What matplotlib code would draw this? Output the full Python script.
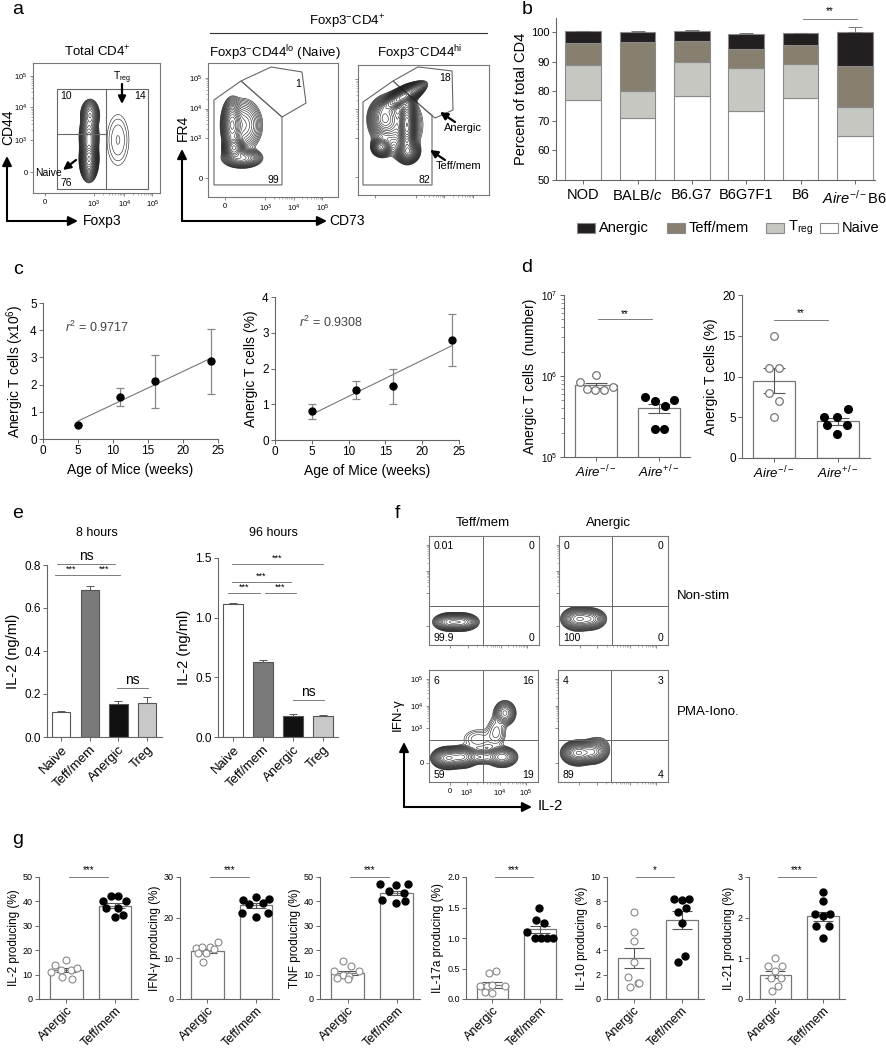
import numpy as np
import matplotlib
matplotlib.use("Agg")
import matplotlib.pyplot as plt
from matplotlib.patches import Polygon, FancyArrowPatch, Rectangle
from matplotlib.lines import Line2D

plt.rcParams['font.family'] = ['Liberation Sans', 'DejaVu Sans']
plt.rcParams['mathtext.fontset'] = 'custom'
plt.rcParams['mathtext.rm'] = 'Liberation Sans'
plt.rcParams['mathtext.it'] = 'Liberation Sans:italic'
plt.rcParams['mathtext.bf'] = 'Liberation Sans:bold'
plt.rcParams['axes.linewidth'] = 0.8

W, H = 886, 1050
fig = plt.figure(figsize=(W / 100, H / 100), dpi=100)

# ------------------------------------------------------------------ data
# panel b : stacked percentages of total CD4
strains = ['NOD', 'BALB/$\\mathit{c}$', 'B6.G7', 'B6G7F1', 'B6', '$\\mathit{Aire}^{-/-}$B6']
b_naive = [77.0, 71.0, 78.4, 73.4, 77.8, 65.0]
b_treg = [11.9, 9.0, 11.3, 14.5, 11.3, 9.5]
b_teff = [7.4, 16.5, 7.2, 6.5, 6.6, 14.1]
b_anergic = [3.9, 3.5, 3.4, 4.8, 3.8, 11.4]
b_err = [0.2, 0.2, 0.2, 0.4, 0.1, 1.5]
b_series = ['Anergic', 'Teff/mem', 'T$_{\\mathrm{reg}}$', 'Naive']
b_colors = ['#231f20', '#878070', '#c6c7c1', 'white']

# panel c : age course
c_age = [5, 11, 16, 24]
c_num = [0.5, 1.55, 2.12, 2.85]
c_num_err = [0.0, 0.32, 0.97, 1.18]
c_pct = [0.8, 1.4, 1.5, 2.8]
c_pct_err = [0.2, 0.25, 0.5, 0.73]
c_r2 = ['0.9717', '0.9308']

# panel d : Aire-/- vs Aire+/-
d_groups = ['$\\mathit{Aire}^{-/-}$', '$\\mathit{Aire}^{+/-}$']
d_num_ko = [8.4e5, 1.02e6, 6.9e5, 6.8e5, 6.8e5, 7.3e5]
d_num_ko_x = [-0.25, 0.0, -0.15, -0.02, 0.12, 0.26]
d_num_het = [5.5e5, 4.9e5, 4.3e5, 5.0e5, 2.2e5, 2.2e5]
d_num_het_x = [-0.23, -0.07, 0.09, 0.24, -0.07, 0.08]
d_num_mean = [7.75e5, 4.0e5]
d_num_sem = [5.5e4, 5.5e4]
d_pct_ko = [15, 11, 11, 8, 7, 5]
d_pct_ko_x = [0.0, -0.08, 0.08, -0.08, 0.08, 0.0]
d_pct_het = [5, 5, 6, 4, 4, 3]
d_pct_het_x = [-0.22, -0.02, 0.15, -0.17, 0.14, -0.02]
d_pct_mean = [9.5, 4.5]
d_pct_sem = [1.5, 0.45]

# panel e : IL-2 secretion
e_cells = ['Naive', 'Teff/mem', 'Anergic', 'Treg']
e_colors = ['white', '#7a7a7a', '#111111', '#c8c8c8']
e8 = [0.115, 0.685, 0.155, 0.16]
e8_err = [0.005, 0.017, 0.013, 0.025]
e96 = [1.115, 0.625, 0.18, 0.178]
e96_err = [0.006, 0.02, 0.012, 0.007]

# panel f : quadrant percentages
f_quads = {
    'f1': ['0.01', '0', '99.9', '0'],
    'f2': ['0', '0', '100', '0'],
    'f3': ['6', '16', '59', '19'],
    'f4': ['4', '3', '89', '4'],
}

# panel g : cytokine producing (%)
g_labels = ['IL-2 producing (%)', 'IFN-\u03b3 producing (%)', 'TNF producing (%)',
            'IL-17a producing (%)', 'IL-10 producing (%)', 'IL-21 producing (%)']
g_ymax = [50, 30, 50, 2.0, 10, 3]
g_ystep = [10, 10, 10, 0.5, 2, 1]
g_sig = ['***', '***', '***', '***', '*', '***']
g_an = [[14.1, 16.1, 12, 12, 12.7, 11, 9, 8.2],
        [12.5, 12.9, 12.9, 14.1, 11.2, 11.2, 12.2, 9.0],
        [15.4, 13.4, 11.3, 11.3, 10.0, 9.3, 8.6, 8.2],
        [0.42, 0.46, 0.21, 0.21, 0.23, 0.21, 0.11, 0.10],
        [7.1, 5.5, 4.75, 3.05, 1.8, 1.35, 1.0, 1.3],
        [1.0, 0.8, 0.8, 0.7, 0.52, 0.52, 0.33, 0.19]]
g_an_x = [[-0.23, 0.0, -0.1, 0.09, 0.21, -0.31, -0.09, 0.12],
          [-0.24, -0.1, 0.06, 0.22, -0.19, -0.03, 0.13, -0.08],
          [-0.09, 0.07, -0.28, 0.24, -0.1, 0.03, -0.21, 0.0],
          [-0.08, 0.08, -0.26, -0.12, -0.01, 0.26, -0.15, 0.0],
          [0.0, 0.0, 0.0, 0.0, -0.12, 0.09, -0.08, 0.12],
          [0.0, -0.15, 0.14, 0.0, -0.1, 0.12, 0.06, -0.07]]
g_te = [[40.3, 42.3, 42.3, 40.3, 37.3, 37.3, 33.5, 34.3],
        [24.3, 25.1, 24.7, 23.3, 23.5, 21.2, 20.2, 21.2],
        [47.1, 46.9, 47.1, 44.1, 43.4, 40.7, 39.3, 40.0],
        [1.5, 1.3, 1.24, 1.1, 1.0, 1.0, 1.0, 1.0],
        [8.2, 8.1, 8.2, 7.5, 7.1, 6.2, 3.5, 3.0],
        [2.62, 2.42, 2.1, 2.05, 2.1, 1.8, 1.8, 1.5]]
g_te_x = [[-0.24, -0.09, 0.07, 0.22, -0.18, 0.07, 0.0, 0.17],
          [-0.26, 0.0, 0.26, -0.14, 0.14, -0.28, 0.0, 0.24],
          [-0.35, -0.01, 0.22, -0.16, 0.14, -0.31, -0.02, 0.17],
          [-0.02, -0.08, 0.08, -0.26, -0.11, 0.03, 0.15, 0.27],
          [-0.15, 0.01, 0.15, 0.1, -0.07, 0.01, 0.08, -0.07],
          [0.0, 0.0, -0.16, 0.0, 0.16, -0.14, 0.14, 0.0]]
g_mean = [[11.8, 38.3], [11.8, 23.0], [10.5, 43.5], [0.23, 1.14], [3.35, 6.45], [0.6, 2.03]]
g_sem = [[0.9, 1.1], [0.5, 0.7], [0.8, 0.8], [0.045, 0.06], [0.8, 0.75], [0.09, 0.1]]


# ------------------------------------------------------------------ helpers
def add_ax(x0, y0, x1, y1):
    return fig.add_axes([x0 / W, 1 - y1 / H, (x1 - x0) / W, (y1 - y0) / H])


def ftext(x, y, s, **kw):
    kw.setdefault('ha', 'center')
    kw.setdefault('va', 'center')
    fig.text(x / W, 1 - y / H, s, **kw)


def farrow(x0, y0, x1, y1, lw=1.5, ms=14, style='-|>'):
    fig.add_artist(FancyArrowPatch((x0 / W, 1 - y0 / H), (x1 / W, 1 - y1 / H),
                                   transform=fig.transFigure, arrowstyle=style,
                                   mutation_scale=ms, lw=lw, color='k',
                                   shrinkA=0, shrinkB=0))


def fline(x0, y0, x1, y1, **kw):
    fig.add_artist(Line2D([x0 / W, x1 / W], [1 - y0 / H, 1 - y1 / H],
                          transform=fig.transFigure, **kw))


def prism(ax, lab=7):
    for s in ['top', 'right']:
        ax.spines[s].set_visible(False)
    for s in ['left', 'bottom']:
        ax.spines[s].set_color('#666')
        ax.spines[s].set_linewidth(0.8)
    ax.tick_params(direction='out', length=3, width=0.7, color='#666',
                   labelsize=lab, pad=1.5)
    ax.tick_params(which='minor', direction='out', length=2, width=0.5, color='#666')


def sig(ax, x1, x2, y, label, dy, fs=7, lw=0.6):
    ax.plot([x1, x2], [y, y], color='#666', lw=lw, clip_on=False)
    ax.text((x1 + x2) / 2, y + dy, label, ha='center', va='bottom', fontsize=fs,
            clip_on=False)


def density(blobs, n=260):
    u = np.linspace(0, 1, n)
    U, V = np.meshgrid(u, u)
    Z = np.zeros_like(U)
    for b in blobs:
        cx, cy, sx, sy, w = b[:5]
        ang = np.deg2rad(b[5]) if len(b) > 5 else 0.0
        du, dv = U - cx, V - cy
        a = du * np.cos(ang) + dv * np.sin(ang)
        c = -du * np.sin(ang) + dv * np.cos(ang)
        Z += w * np.exp(-0.5 * ((a / sx) ** 2 + (c / sy) ** 2))
    return U, V, Z


def decade_minor(pos):
    out = []
    for p0, p1 in zip(pos[:-1], pos[1:]):
        for m in range(2, 10):
            out.append(p0 + np.log10(m) * (p1 - p0))
    return out


def flow_ax(box, blobs, lo, nlev, xt=None, yt=None, xlabels=False, ylabels=False, lw=0.4):
    ax = add_ax(*box)
    ax.set_xlim(0, 1)
    ax.set_ylim(0, 1)
    U, V, Z = density(blobs)
    lev = Z.max() * np.geomspace(lo, 0.93, nlev)
    ax.contour(U, V, Z, levels=lev, colors='#1a1a1a', linewidths=lw)
    for s in ax.spines.values():
        s.set_color('#777')
        s.set_linewidth(0.8)
    labs = ['0', '10$^3$', '10$^4$', '10$^5$']
    if xt is not None:
        ax.set_xticks(xt)
        ax.set_xticks(decade_minor(xt[1:]), minor=True)
        ax.set_xticklabels(labs if xlabels else [''] * 4)
    else:
        ax.set_xticks([])
    if yt is not None:
        ax.set_yticks(yt)
        ax.set_yticks(decade_minor(yt[1:]), minor=True)
        ax.set_yticklabels(labs if ylabels else [''] * 4)
    else:
        ax.set_yticks([])
    ax.tick_params(direction='out', length=2, width=0.6, color='#777', labelsize=5.5, pad=2)
    ax.tick_params(which='minor', direction='out', length=1.2, width=0.4, color='#777')
    return ax


# ------------------------------------------------------------------ panel a
ftext(18, 10, 'a', fontsize=14)
ftext(97, 52, 'Total CD4$^{+}$', fontsize=9.5)
ax = flow_ax((33, 63, 160, 193),
             [(0.441, 0.26, 0.024, 0.055, 1.0), (0.441, 0.43, 0.027, 0.065, 0.3),
              (0.449, 0.6, 0.027, 0.044, 0.2), (0.669, 0.408, 0.068, 0.154, 0.009)],
             0.004, 22, xt=[0.094, 0.48, 0.72, 0.94], yt=[0.16, 0.41, 0.66, 0.9],
             xlabels=True, ylabels=True)
g = dict(color='#666', lw=0.8)
ax.plot([0.189, 0.906, 0.906, 0.189, 0.189], [0.031, 0.031, 0.8, 0.8, 0.031], **g)
ax.plot([0.575, 0.575], [0.031, 0.8], **g)
ax.plot([0.189, 0.575], [0.454, 0.454], **g)
ax.text(0.213, 0.745, '10', fontsize=7.5, va='center')
ax.text(0.89, 0.745, '14', fontsize=7.5, va='center', ha='right')
ax.text(0.213, 0.075, '76', fontsize=7.5, va='center')
ax.text(0.02, 0.155, 'Naive', fontsize=7.5, va='center')
ax.text(0.70, 0.885, 'T$_{\\mathrm{reg}}$', fontsize=7.5, va='center', ha='center')
farrow(122, 84, 122, 104, lw=1.6, ms=11)
farrow(76, 160, 63, 170, lw=1.6, ms=11)

ftext(347, 22, 'Foxp3$^{-}$CD4$^{+}$', fontsize=9.5)
fline(210, 33, 487, 33, color='#333', lw=0.8)
ftext(275, 53, 'Foxp3$^{-}$CD44$^{\\mathrm{lo}}$ (Naive)', fontsize=9.5)
ftext(420, 53, 'Foxp3$^{-}$CD44$^{\\mathrm{hi}}$', fontsize=9.5)

ax = flow_ax((208, 63, 338, 197),
             [(0.2, 0.366, 0.031, 0.037, 1.0), (0.185, 0.537, 0.031, 0.075, 0.5),
              (0.269, 0.537, 0.069, 0.09, 0.12), (0.262, 0.291, 0.062, 0.03, 0.3)],
             0.01, 22, xt=[0.13, 0.44, 0.66, 0.88], yt=[0.14, 0.44, 0.66, 0.89],
             xlabels=True, ylabels=True)
ax.add_patch(Polygon([(0.046, 0.724), (0.254, 0.866), (0.569, 0.597), (0.569, 0.09), (0.046, 0.09)],
                     closed=True, fill=False, ec='#666', lw=0.8))
ax.add_patch(Polygon([(0.254, 0.866), (0.485, 0.97), (0.723, 0.933), (0.754, 0.701), (0.569, 0.597)],
                     closed=True, fill=False, ec='#666', lw=0.8))
ax.text(0.69, 0.84, '1', fontsize=7.5, ha='center', va='center')
ax.text(0.55, 0.13, '99', fontsize=7.5, ha='right', va='center')

ax = flow_ax((358, 65, 489, 195),
             [(0.34, 0.755, 0.085, 0.028, 0.8, 30), (0.374, 0.54, 0.028, 0.1, 0.7),
              (0.176, 0.369, 0.034, 0.034, 0.35), (0.382, 0.331, 0.04, 0.04, 0.4),
              (0.2, 0.59, 0.055, 0.07, 0.3), (0.3, 0.54, 0.11, 0.135, 0.15)],
             0.035, 26, xt=[0.13, 0.44, 0.66, 0.88], yt=[0.14, 0.44, 0.66, 0.89])
ax.add_patch(Polygon([(0.038, 0.715), (0.267, 0.877), (0.534, 0.638), (0.565, 0.615),
                      (0.565, 0.077), (0.038, 0.077)], closed=True, fill=False, ec='#666', lw=0.8))
ax.add_patch(Polygon([(0.267, 0.877), (0.458, 0.985), (0.718, 0.954), (0.725, 0.654),
                      (0.588, 0.592), (0.534, 0.638)], closed=True, fill=False, ec='#666', lw=0.8))
ax.text(0.664, 0.9, '18', fontsize=7.5, ha='center', va='center')
ax.text(0.555, 0.115, '82', fontsize=7.5, ha='right', va='center')
ftext(444, 128, 'Anergic', fontsize=8, ha='left')
ftext(436, 166, 'Teff/mem', fontsize=8, ha='left')
farrow(455, 122, 440, 112, lw=1.6, ms=11)
farrow(445, 160, 430, 150, lw=1.6, ms=11)

# axis arrows
farrow(7, 221, 7, 156, lw=1.5, ms=14)
farrow(7, 221, 78, 221, lw=1.5, ms=14)
ftext(8, 127, 'CD44', fontsize=10, rotation=90)
ftext(83, 221, 'Foxp3', fontsize=10, ha='left')
farrow(182, 221, 182, 149, lw=1.5, ms=14)
farrow(182, 221, 327, 221, lw=1.5, ms=14)
ftext(183, 128, 'FR4', fontsize=10, rotation=90)
ftext(329, 221, 'CD73', fontsize=10, ha='left')

# ------------------------------------------------------------------ panel b
ftext(527, 9, 'b', fontsize=14)
ax = add_ax(556, 18, 875, 180)
x = np.arange(len(strains))
ec = '#8a8a8a'
ax.bar(x, b_naive, 0.66, color=b_colors[3], ec=ec, lw=0.8)
ax.bar(x, b_treg, 0.66, bottom=b_naive, color=b_colors[2], ec=ec, lw=0.8)
bt = np.array(b_naive) + np.array(b_treg)
ax.bar(x, b_teff, 0.66, bottom=bt, color=b_colors[1], ec=ec, lw=0.8)
bt2 = bt + np.array(b_teff)
ax.bar(x, b_anergic, 0.66, bottom=bt2, color=b_colors[0], ec=ec, lw=0.8,
       yerr=[np.zeros(6), b_err], error_kw=dict(ecolor='#777', capsize=5, elinewidth=0.7, capthick=0.7))
ax.set_ylim(50, 104.7)
ax.set_xlim(-0.5, 5.37)
prism(ax, lab=8)
ax.set_yticks([50, 60, 70, 80, 90, 100])
ax.set_xticks(x)
ax.set_xticklabels(strains, fontsize=10.5)
ax.tick_params(axis='x', pad=3)
ax.set_ylabel('Percent of total CD4', fontsize=10.5, labelpad=2)
sig(ax, 4.04, 5.04, 104.4, '**', 0.8, fs=7)
# legend (manual)
for sx, tx, col, lab in zip([577, 667, 766, 820], [599, 689, 788, 842], b_colors, b_series):
    fig.add_artist(Rectangle((sx / W, 1 - 233 / H), 18 / W, 10 / H, transform=fig.transFigure,
                             fc=col, ec=ec, lw=0.8))
    ftext(tx, 228, lab, fontsize=10.5, ha='left')

# ------------------------------------------------------------------ panel c
ftext(18, 270, 'c', fontsize=14)
for i, (box, yv, ye, ylim, ylab, r2pos) in enumerate([
        ((43, 303, 218, 439), c_num, c_num_err, (0, 5), 'Anergic T cells (x10$^6$)', (3.2, 4.1)),
        ((275, 297, 459, 440), c_pct, c_pct_err, (0, 4), 'Anergic T cells (%)', (3.2, 3.3))]):
    ax = add_ax(*box)
    ax.errorbar(c_age, yv, yerr=ye, fmt='o', color='k', ms=5, ecolor='#888',
                elinewidth=0.9, capsize=3, capthick=0.9, zorder=3)
    k, b0 = np.polyfit(c_age, yv, 1)
    xx = np.array([c_age[0], c_age[-1]])
    ax.plot(xx, k * xx + b0, color='#777', lw=0.8, zorder=2)
    ax.set_xlim(0, 25)
    ax.set_ylim(*ylim)
    ax.set_xticks([0, 5, 10, 15, 20, 25])
    ax.set_yticks(np.arange(ylim[0], ylim[1] + 1))
    prism(ax, lab=8.5)
    ax.set_xlabel('Age of Mice (weeks)', fontsize=10, labelpad=4)
    ax.set_ylabel(ylab, fontsize=10, labelpad=3)
    ax.text(*r2pos, '$\\mathit{r}^2$ = ' + c_r2[i], fontsize=9, color='#444', va='center')

# ------------------------------------------------------------------ panel d
ftext(527, 268, 'd', fontsize=14)
ax = add_ax(564, 295, 690, 457)
ax.set_yscale('log')
ax.bar([0, 1], d_num_mean, 0.67, color='white', ec='#777', lw=0.9, zorder=1)
ax.errorbar([0, 1], d_num_mean, yerr=d_num_sem, fmt='none', ecolor='#555', capsize=8,
            elinewidth=0.8, capthick=0.8, zorder=2)
ax.plot(d_num_ko_x, d_num_ko, 'o', mfc='white', mec='#777', ms=5.5, mew=0.9, zorder=3, clip_on=False)
ax.plot(np.array(d_num_het_x) + 1, d_num_het, 'o', mfc='k', mec='k', ms=5.5, zorder=3)
ax.set_ylim(1e5, 1e7)
ax.set_xlim(-0.51, 1.49)
prism(ax, lab=7)
ax.set_xticks([0, 1])
ax.set_xticklabels(d_groups, fontsize=9.5)
ax.set_ylabel('Anergic T cells  (number)', fontsize=10, labelpad=3)
sig(ax, 0.03, 0.89, 5.0e6, '**', 0, fs=7)

ax = add_ax(742, 295, 870, 458)
ax.bar([0, 1], d_pct_mean, 0.67, color='white', ec='#777', lw=0.9, zorder=1)
ax.errorbar([0, 1], d_pct_mean, yerr=d_pct_sem, fmt='none', ecolor='#555', capsize=8,
            elinewidth=0.8, capthick=0.8, zorder=2)
ax.plot(d_pct_ko_x, d_pct_ko, 'o', mfc='white', mec='#777', ms=5.5, mew=0.9, zorder=3)
ax.plot(np.array(d_pct_het_x) + 1, d_pct_het, 'o', mfc='k', mec='k', ms=5.5, zorder=3)
ax.set_ylim(0, 20)
ax.set_xlim(-0.5, 1.5)
prism(ax, lab=8.5)
ax.set_yticks([0, 5, 10, 15, 20])
ax.set_xticks([0, 1])
ax.set_xticklabels(d_groups, fontsize=9.5)
ax.set_ylabel('Anergic T cells (%)', fontsize=10, labelpad=3)
sig(ax, 0.0, 0.84, 16.9, '**', 0.3, fs=7)

# ------------------------------------------------------------------ panel e
ftext(18, 513, 'e', fontsize=14)
ftext(97, 533, '8 hours', fontsize=9)
ftext(273, 533, '96 hours', fontsize=9)
for box, vals, errs, ylim, yt, xl, sigs in [
        ((47, 565, 162, 737), e8, e8_err, (0, 0.8), [0.0, 0.2, 0.4, 0.6, 0.8], (-0.49, 3.52),
         [(-0.14, 1.89, 0.805, 'ns', 0.003, 10), (-0.21, 0.91, 0.753, '***', 0.005, 6.5),
          (0.94, 2.06, 0.753, '***', 0.005, 6.5), (1.96, 3.04, 0.228, 'ns', 0.003, 10)]),
        ((218, 558, 338, 737), e96, e96_err, (0, 1.5), [0.0, 0.5, 1.0, 1.5], (-0.5, 3.5),
         [(-0.03, 3.0, 1.45, '***', 0.01, 6.5), (-0.03, 1.93, 1.3, '***', 0.01, 6.5),
          (-0.17, 0.9, 1.207, '***', 0.01, 6.5), (1.07, 2.1, 1.207, '***', 0.01, 6.5),
          (2.0, 3.03, 0.31, 'ns', 0.005, 10)])]:
    ax = add_ax(*box)
    xi = np.arange(4)
    ax.bar(xi, vals, 0.64, color=e_colors, ec='#555', lw=0.8,
           yerr=[np.zeros(4), errs], error_kw=dict(ecolor='#555', capsize=3, elinewidth=0.7, capthick=0.7))
    ax.set_ylim(*ylim)
    ax.set_xlim(*xl)
    prism(ax, lab=8.5)
    ax.set_yticks(yt)
    ax.set_yticklabels(['%.1f' % t for t in yt])
    ax.set_xticks(xi)
    ax.set_xticklabels(e_cells, rotation=45, ha='right', va='top', rotation_mode='anchor', fontsize=9.5)
    ax.set_ylabel('IL-2 (ng/ml)', fontsize=10.5, labelpad=3)
    for x1, x2, y, lab, dy, fs in sigs:
        sig(ax, x1, x2, y, lab, dy, fs=fs)

# ------------------------------------------------------------------ panel f
ftext(397, 513, 'f', fontsize=14)
ftext(483, 523, 'Teff/mem', fontsize=9.5)
ftext(608, 523, 'Anergic', fontsize=9.5)
ftext(677, 596, 'Non-stim', fontsize=9.5, ha='left')
ftext(677, 712, 'PMA-Iono.', fontsize=9.5, ha='left')
fboxes = {
    'f1': ((429, 536, 539, 645), [(0.191, 0.211, 0.055, 0.03, 1.0), (0.3, 0.211, 0.055, 0.03, 0.9)],
           0.012, 16, (0.49, 0.358)),
    'f2': ((559, 536, 668, 645), [(0.174, 0.239, 0.055, 0.039, 1.0), (0.284, 0.239, 0.055, 0.037, 0.7)],
           0.012, 16, (0.486, 0.358)),
    'f3': ((429, 670, 538, 782), [(0.174, 0.214, 0.055, 0.036, 1.0), (0.303, 0.223, 0.055, 0.036, 0.8),
                                  (0.67, 0.223, 0.055, 0.036, 0.45), (0.697, 0.616, 0.041, 0.045, 0.3),
                                  (0.48, 0.222, 0.07, 0.03, 0.12), (0.45, 0.38, 0.09, 0.06, 0.035),
                                  (0.62, 0.45, 0.05, 0.08, 0.05)],
           0.012, 18, (0.495, 0.375)),
    'f4': ((558, 670, 668, 782), [(0.182, 0.259, 0.055, 0.04, 1.0), (0.309, 0.268, 0.055, 0.04, 0.6),
                                  (0.364, 0.321, 0.055, 0.045, 0.05)],
           0.012, 18, (0.482, 0.375)),
}
for key, (box, blobs, lo, nl, (qx, qy)) in fboxes.items():
    lab = key == 'f3'
    ax = flow_ax(box, blobs, lo, nl, xt=[0.19, 0.35, 0.65, 0.89], yt=[0.17, 0.48, 0.68, 0.92],
                 xlabels=lab, ylabels=lab)
    ax.axvline(qx, color='#666', lw=0.7)
    ax.axhline(qy, color='#666', lw=0.7)
    q = f_quads[key]
    ax.text(0.04, 0.95, q[0], fontsize=7.5, ha='left', va='top')
    ax.text(0.96, 0.95, q[1], fontsize=7.5, ha='right', va='top')
    ax.text(0.04, 0.02, q[2], fontsize=7.5, ha='left', va='bottom')
    ax.text(0.96, 0.02, q[3], fontsize=7.5, ha='right', va='bottom')
farrow(404, 807, 404, 742, lw=1.5, ms=14)
farrow(404, 807, 532, 807, lw=1.5, ms=14)
ftext(398, 715, 'IFN-\u03b3', fontsize=9.5, rotation=90)
ftext(538, 806, 'IL-2', fontsize=10.5, ha='left')

# ------------------------------------------------------------------ panel g
ftext(18, 840, 'g', fontsize=14)
gboxes = [(39, 138), (180, 279), (320, 420), (466, 562), (607, 704), (749, 845)]
for i, (x0, x1) in enumerate(gboxes):
    ax = add_ax(x0, 877, x1, 999)
    ax.bar([0, 1], g_mean[i], 0.67, color='white', ec='#777', lw=0.9, zorder=1)
    ax.errorbar([0, 1], g_mean[i], yerr=g_sem[i], fmt='none', ecolor='#555', capsize=7,
                elinewidth=0.8, capthick=0.8, zorder=2)
    ax.plot(g_an_x[i], g_an[i], 'o', mfc='white', mec='#888', ms=5, mew=0.8, zorder=3)
    ax.plot(np.array(g_te_x[i]) + 1, g_te[i], 'o', mfc='k', mec='k', ms=5, zorder=3)
    ax.set_ylim(0, g_ymax[i])
    ax.set_xlim(-0.56, 1.47)
    prism(ax, lab=6.5)
    yt = np.arange(0, g_ymax[i] + 1e-9, g_ystep[i])
    ax.set_yticks(yt)
    if g_ystep[i] < 1:
        ax.set_yticklabels(['%.1f' % t for t in yt])
    else:
        ax.set_yticklabels(['%d' % t for t in yt])
    ax.set_xticks([0, 1])
    ax.set_xticklabels(['Anergic', 'Teff/mem'], rotation=45, ha='right', va='top',
                       rotation_mode='anchor', fontsize=9)
    ax.tick_params(axis='x', pad=1)
    ax.set_ylabel(g_labels[i], fontsize=8.5, labelpad=2)
    sig(ax, 0.05, 0.85, g_ymax[i], g_sig[i], g_ymax[i] * 0.015, fs=7)

fig.savefig('out.png', dpi=100)
